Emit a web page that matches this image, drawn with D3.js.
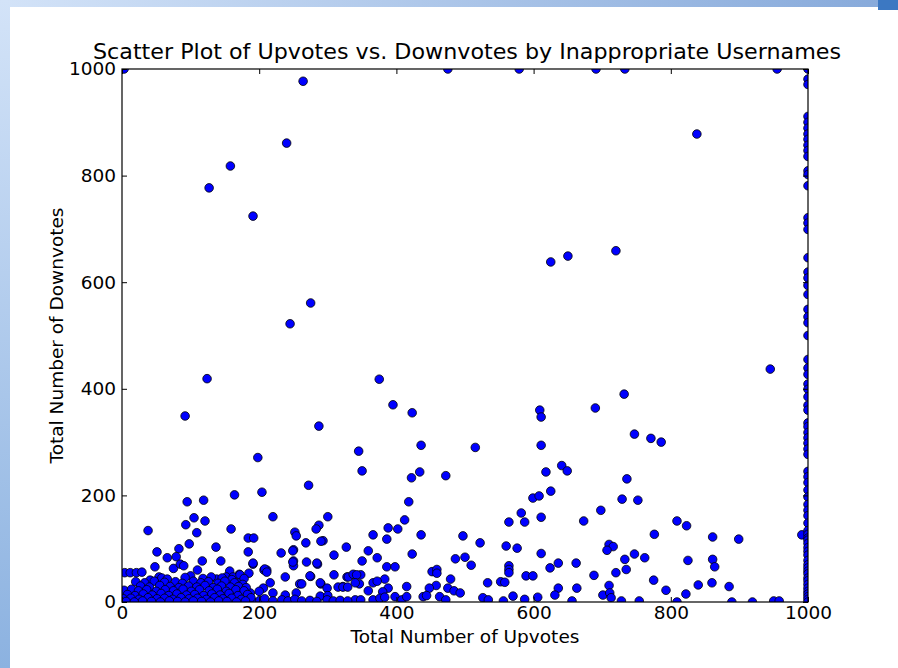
<!DOCTYPE html>
<html><head><meta charset="utf-8">
<script src="https://cdn.jsdelivr.net/npm/d3@7"></script>
<style>body{margin:0;background:#fff;overflow:hidden;} svg{display:block;}</style>
</head><body><svg id="chart" width="898" height="668"></svg>
<script>
const titleText = "Scatter Plot of Upvotes vs. Downvotes by Inappropriate Usernames";
const xLabel = "Total Number of Upvotes";
const yLabel = "Total Number of Downvotes";
const xTicks = [0, 200, 400, 600, 800, 1000];
const yTicks = [0, 200, 400, 600, 800, 1000];

// general points: upvotes[i], downvotes[i]
const upvotes = [
 264,240,158,127,191,838,275,245,124,375, 92,395,287,625,650,720,945,732,423,609,611,690,
 198,204,164,272,95,119,220,300,38,105, 93,121,109,159,252,254,287,283,184,192,
 293,268,327,51,83,98,137,184,232,250, 309,66,79,48,75,85,90,117,144,191,
 250,250,269,285,185,207,211,238,275,309, 259,290,328,54,100,110,138,157,171,152,
 436,345,515,611,350,434,422,472,618,641, 649,625,418,599,608,611,412,582,587,564,
 673,388,402,386,366,436,497,522,560,576, 359,372,423,500,509,486,350,386,398,611,
 624,636,662,564,564,564,452,459,459,330, 337,348,346,383,366,372,388,415,479,458,
 448,475,484,493,533,552,558,589,599,636, 631,663,359,380,322,526,534,570,587,606,
 656,556,439,444,463,472,398,408,340,348, 366,376,415,383,
 747,771,786,736,729,752,698,809,823,776, 861,899,991,710,716,707,747,762,733,825,
 861,864,735,720,688,775,710,840,860,885, 793,822,701,711,713,728,754,809,889,919,
 950,958,
 162,172,172,249,249,284,290,191,208,211, 274,342,206,216,200,262,289,299,315,322,
 329,340,187,220,238,254,289,300,168,162, 172,190,201,208,220,233,242,252,262,274,
 284,299,308,318,329,
 4,12,21,29,
 41,58,66,92,118,130,146,160,178,
 20,33,47,62,78,88,104,115,126,140,150,164,176,
 27,40,55,70,83,97,109,121,133,145,158,170,181,
 3,14,24,36,50,63,75,89,101,113,127,139,152,166,178,
 8,19,31,44,57,68,80,94,106,119,131,143,156,169,183,
 2,13,25,38,51,62,74,86,98,110,123,135,147,160,174,188,
 6,18,30,43,56,69,81,92,104,116,129,141,153,167,180
];
const downvotes = [
 977,861,818,777,724,878,561,522,419,418, 349,370,330,638,649,659,437,390,355,360,347,364,
 271,206,201,219,188,191,160,160,134,158, 145,152,130,137,131,124,144,137,120,120,
 115,111,103,94,100,109,103,94,92,98, 88,83,85,66,63,71,68,77,77,71,
 77,68,75,71,54,60,60,47,48,51, 34,34,47,47,49,60,43,58,52,47,
 294,283,290,294,246,244,233,237,244,256, 246,208,188,195,199,159,154,167,150,150,
 152,139,137,118,126,126,124,111,105,101, 96,83,90,84,69,81,77,66,66,91,
 64,73,73,68,61,55,57,61,54,47, 52,51,34,43,36,39,26,29,43,31,
 26,26,21,17,36,38,37,49,49,26, 13,26,21,19,29,8,4,11,5,9,
 2,2,10,12,10,4,10,4,4,4, 4,7,10,9,
 315,307,300,231,193,191,172,152,143,127, 122,118,126,108,104,97,90,83,80,78,
 80,66,61,55,50,41,31,32,36,29, 22,15,13,17,8,2,2,0,0,0,
 2,2,
 47,51,36,96,75,73,114,73,62,56, 49,51,26,36,20,34,36,26,28,28,
 28,36,17,17,13,17,11,12,20,2, 4,2,3,6,2,4,2,5,2,3,
 1,4,2,3,2,
 55,55,55,56,
 41,45,43,46,44,47,45,42,44,
 38,36,39,37,38,35,39,36,38,35,39,36,33,
 30,28,31,29,27,30,28,31,27,30,28,29,27,
 22,24,21,23,20,23,21,24,20,23,21,24,20,23,21,
 14,12,15,13,16,12,15,13,14,12,15,13,16,12,14,
 6,7,5,8,6,7,5,8,6,7,5,8,6,7,5,8,
 1,0,2,1,0,2,1,0,2,1,0,2,1,0,2
];
// points whose downvotes are capped at 1000 (their upvotes)
const cappedTopUpvotes = [3, 475, 579, 691, 733, 955, 1000];
// points whose upvotes are capped at 1000 (their downvotes)
const cappedRightDownvotes = [
 981,971,911,900,889,878,868,857,847,836, 809,802,781,721,711,699,646,619,608,594,
 577,549,535,524,500,455,439,427,409,399, 385,369,360,336,329,318,308,298,287,277,
 245,235,224,210,197,183,172,162,148,134, 127,120,116,110,102,95,88,78,70,64,
 58,53,45,40,33,26,20,15,10,5,0
];

const W = 898, H = 668;
const margin = {top: 69, right: 90, bottom: 66, left: 122};
const svg = d3.select("#chart");

// slide-like background bands
const defs = svg.append("defs");
const gl = defs.append("linearGradient").attr("id","gl").attr("x1",0).attr("y1",0).attr("x2",0).attr("y2",1);
gl.append("stop").attr("offset","0%").attr("stop-color","#d3e3f8");
gl.append("stop").attr("offset","100%").attr("stop-color","#8cb2e0");
const gt = defs.append("linearGradient").attr("id","gt").attr("x1",0).attr("y1",0).attr("x2",1).attr("y2",0);
gt.append("stop").attr("offset","0%").attr("stop-color","#d3e3f8");
gt.append("stop").attr("offset","100%").attr("stop-color","#86a9da");
svg.append("rect").attr("x",0).attr("y",0).attr("width",W).attr("height",H).attr("fill","#fff");
svg.append("rect").attr("x",0).attr("y",0).attr("width",W).attr("height",7).attr("fill","url(#gt)");
svg.append("rect").attr("x",878).attr("y",0).attr("width",20).attr("height",10).attr("fill","#3c78c2");
svg.append("rect").attr("x",0).attr("y",0).attr("width",10).attr("height",H).attr("fill","url(#gl)");

const x = d3.scaleLinear().domain([0,1000]).range([margin.left, W - margin.right]);
const y = d3.scaleLinear().domain([0,1000]).range([H - margin.bottom, margin.top]);

const pts = upvotes.map((u,i)=>({u, d: downvotes[i]}))
  .concat(cappedTopUpvotes.map(u=>({u, d:1000})))
  .concat(cappedRightDownvotes.map(d=>({u:1000, d})));

defs.append("clipPath").attr("id","plotclip").append("rect")
  .attr("x", x(0)).attr("y", y(1000)).attr("width", x(1000)-x(0)).attr("height", y(0)-y(1000));

svg.append("g").attr("clip-path","url(#plotclip)")
  .selectAll("circle").data(pts).join("circle")
  .attr("cx", p=>x(p.u)).attr("cy", p=>y(p.d)).attr("r", 4.3)
  .attr("fill","#0000ff").attr("stroke","#000").attr("stroke-width",0.8);

const font = "'DejaVu Sans', sans-serif";
function styleAxis(g, labels){
  g.select(".domain").remove();
  g.selectAll(".tick line").attr("stroke","#000").attr("stroke-width",1);
  g.selectAll(".tick text").attr("fill","#000").style("font-family",font).style("font-size","18.5px");
  if(!labels) g.selectAll(".tick text").remove();
}
svg.append("g").attr("transform",`translate(0,${y(0)})`)
  .call(d3.axisBottom(x).tickValues(xTicks).tickSize(-5).tickPadding(4).tickFormat(d3.format("d")))
  .call(g=>styleAxis(g,true));
svg.append("g").attr("transform",`translate(0,${y(1000)})`)
  .call(d3.axisTop(x).tickValues(xTicks).tickSize(-5))
  .call(g=>styleAxis(g,false));
svg.append("g").attr("transform",`translate(${x(0)},0)`)
  .call(d3.axisLeft(y).tickValues(yTicks).tickSize(-5).tickPadding(6).tickFormat(d3.format("d")))
  .call(g=>styleAxis(g,true));
svg.append("g").attr("transform",`translate(${x(1000)},0)`)
  .call(d3.axisRight(y).tickValues(yTicks).tickSize(-5))
  .call(g=>styleAxis(g,false));

svg.append("rect").attr("x",x(0)).attr("y",y(1000)).attr("width",x(1000)-x(0)).attr("height",y(0)-y(1000))
  .attr("fill","none").attr("stroke","#000").attr("stroke-width",1.2);

svg.append("text").attr("x",(x(0)+x(1000))/2 + 2).attr("y",59).attr("text-anchor","middle")
  .attr("textLength",748).attr("lengthAdjust","spacingAndGlyphs")
  .style("font-family",font).style("font-size","20.5px").attr("fill","#000").text(titleText);
svg.append("text").attr("x",(x(0)+x(1000))/2).attr("y",643).attr("text-anchor","middle")
  .style("font-family",font).style("font-size","18.5px").attr("fill","#000").text(xLabel);
svg.append("text").attr("transform",`translate(63,${(y(0)+y(1000))/2}) rotate(-90)`).attr("text-anchor","middle")
  .style("font-family",font).style("font-size","18.5px").attr("fill","#000").text(yLabel);
</script>
</body></html>
